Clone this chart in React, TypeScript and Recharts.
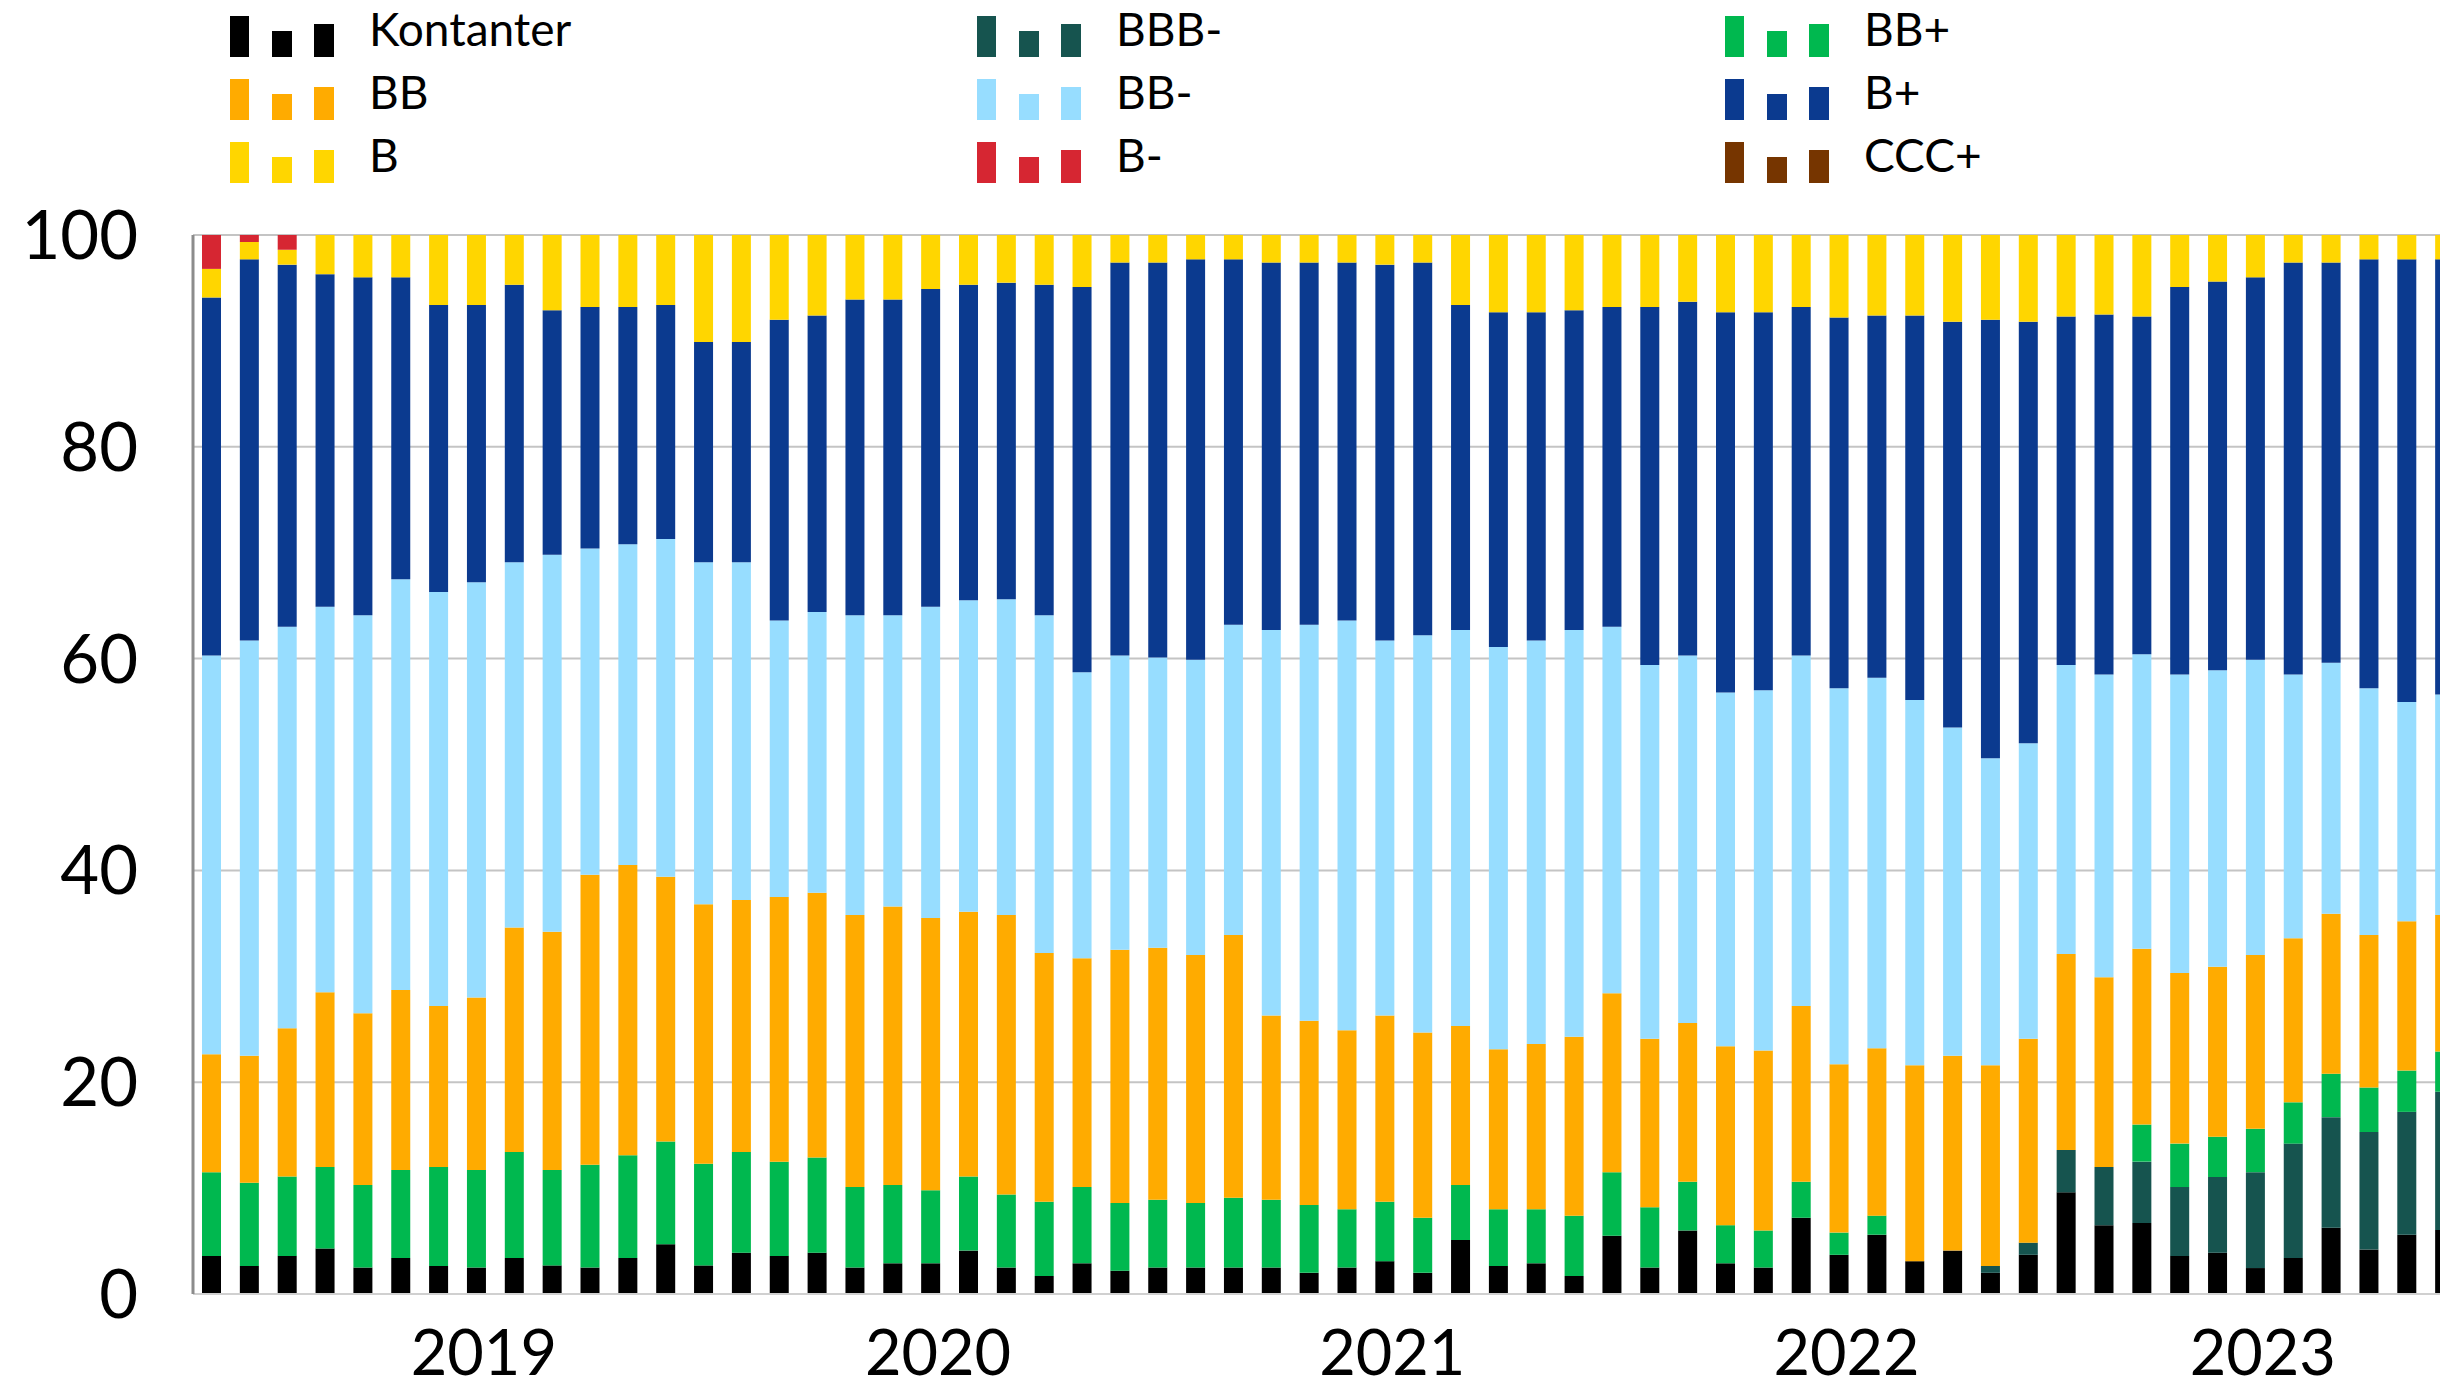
import { BarChart, Bar, XAxis, YAxis, CartesianGrid } from "recharts";

// månedlige observasjoner, nov 2018 - okt 2023
const months = [
  "2018-11", "2018-12",
  "2019-01", "2019-02", "2019-03", "2019-04", "2019-05", "2019-06", "2019-07", "2019-08", "2019-09", "2019-10", "2019-11", "2019-12",
  "2020-01", "2020-02", "2020-03", "2020-04", "2020-05", "2020-06", "2020-07", "2020-08", "2020-09", "2020-10", "2020-11", "2020-12",
  "2021-01", "2021-02", "2021-03", "2021-04", "2021-05", "2021-06", "2021-07", "2021-08", "2021-09", "2021-10", "2021-11", "2021-12",
  "2022-01", "2022-02", "2022-03", "2022-04", "2022-05", "2022-06", "2022-07", "2022-08", "2022-09", "2022-10", "2022-11", "2022-12",
  "2023-01", "2023-02", "2023-03", "2023-04", "2023-05", "2023-06", "2023-07", "2023-08", "2023-09", "2023-10",
];

// årstall på x-aksen
const yearLabels: Record<string, string> = {
  "2019-06": "2019",
  "2020-06": "2020",
  "2021-06": "2021",
  "2022-06": "2022",
  "2023-05": "2023",
};

const yTicks = [0, 20, 40, 60, 80, 100];

const kontanter = [
  3.6, 2.65, 3.6, 4.3, 2.5, 3.4, 2.65, 2.5, 3.4, 2.7,
  2.5, 3.4, 4.7, 2.7, 3.9, 3.6, 3.9, 2.5, 2.9, 2.9,
  4.1, 2.5, 1.7, 2.9, 2.2, 2.5, 2.5, 2.5, 2.5, 2.0,
  2.5, 3.1, 2.0, 5.1, 2.65, 2.9, 1.7, 5.5, 2.5, 6.0,
  2.9, 2.5, 7.2, 3.7, 5.6, 3.1, 4.1, 2.0, 3.7, 9.6,
  6.5, 6.7, 3.6, 3.9, 2.45, 3.4, 6.25, 4.2, 5.6, 6.05,
];
const bbbMinus = [
  0, 0, 0, 0, 0, 0, 0, 0, 0, 0,
  0, 0, 0, 0, 0, 0, 0, 0, 0, 0,
  0, 0, 0, 0, 0, 0, 0, 0, 0, 0,
  0, 0, 0, 0, 0, 0, 0, 0, 0, 0,
  0, 0, 0, 0, 0, 0, 0, 0.65, 1.15, 4.0,
  5.5, 5.8, 6.5, 7.15, 9.05, 10.8, 10.45, 11.1, 11.6, 13.05,
];
const bbPlus = [
  7.9, 7.85, 7.5, 7.7, 7.8, 8.3, 9.35, 9.2, 10.0, 9.0,
  9.7, 9.7, 9.7, 9.6, 9.5, 8.9, 9.0, 7.6, 7.4, 6.9,
  7.0, 6.9, 7.0, 7.2, 6.4, 6.4, 6.1, 6.6, 6.4, 6.4,
  5.5, 5.6, 5.2, 5.2, 5.35, 5.1, 5.7, 6.0, 5.7, 4.6,
  3.6, 3.5, 3.4, 2.1, 1.8, 0, 0, 0, 0, 0,
  0, 3.5, 4.1, 3.8, 4.1, 3.9, 4.1, 4.2, 3.9, 3.8,
];
const bb = [
  11.15, 12.0, 14.0, 16.5, 16.2, 17.0, 15.2, 16.3, 21.2, 22.5,
  27.4, 27.4, 25.0, 24.5, 23.8, 25.0, 25.0, 25.7, 26.3, 25.7,
  25.0, 26.4, 23.5, 21.6, 23.9, 23.8, 23.4, 24.8, 17.4, 17.4,
  16.9, 17.6, 17.5, 15.0, 15.1, 15.6, 16.9, 16.9, 15.9, 15.0,
  16.9, 17.0, 16.6, 15.9, 15.8, 18.5, 18.4, 18.95, 19.25, 18.5,
  17.9, 16.6, 16.1, 16.05, 16.4, 15.5, 15.1, 14.4, 14.1, 12.9,
];
const bbMinus = [
  37.65, 39.2, 37.9, 36.4, 37.6, 38.8, 39.1, 39.2, 34.5, 35.6,
  30.8, 30.3, 31.9, 32.3, 31.9, 26.1, 26.5, 28.3, 27.5, 29.4,
  29.4, 29.8, 31.9, 27.0, 27.8, 27.4, 27.9, 29.3, 36.4, 37.4,
  38.7, 35.4, 37.5, 37.4, 38.0, 38.1, 38.4, 34.6, 35.3, 34.7,
  33.4, 34.0, 33.1, 35.5, 35.0, 34.5, 31.0, 29.0, 27.9, 27.3,
  28.6, 27.8, 28.2, 28.0, 27.9, 24.9, 23.7, 23.3, 20.7, 20.8,
];
const bPlus = [
  33.8, 36.0, 34.2, 31.4, 31.9, 28.5, 27.1, 26.2, 26.2, 23.1,
  22.8, 22.4, 22.1, 20.8, 20.8, 28.4, 28.0, 29.8, 29.8, 30.0,
  29.8, 29.9, 31.2, 36.4, 37.1, 37.3, 37.8, 34.5, 34.7, 34.2,
  33.8, 35.5, 35.2, 30.7, 31.6, 31.0, 30.2, 30.2, 33.8, 33.4,
  35.9, 35.7, 32.9, 35.0, 34.2, 36.3, 38.3, 41.4, 39.8, 32.9,
  34.0, 31.9, 36.6, 36.7, 36.1, 38.9, 37.8, 40.5, 41.8, 41.1,
];
const b = [
  2.7, 1.65, 1.4, 3.7, 4.0, 4.0, 6.6, 6.6, 4.7, 7.1,
  6.8, 6.8, 6.6, 10.1, 10.1, 8.0, 7.6, 6.1, 6.1, 5.1,
  4.7, 4.5, 4.7, 4.9, 2.6, 2.6, 2.3, 2.3, 2.6, 2.6,
  2.6, 2.8, 2.6, 6.6, 7.3, 7.3, 7.1, 6.8, 6.8, 6.3,
  7.3, 7.3, 6.8, 7.8, 7.6, 7.6, 8.2, 8.0, 8.2, 7.7,
  7.5, 7.7, 4.9, 4.4, 4.0, 2.6, 2.6, 2.3, 2.3, 2.3,
];
const bMinus = [
  3.2, 0.65, 1.4, 0, 0, 0, 0, 0, 0, 0,
  0, 0, 0, 0, 0, 0, 0, 0, 0, 0,
  0, 0, 0, 0, 0, 0, 0, 0, 0, 0,
  0, 0, 0, 0, 0, 0, 0, 0, 0, 0,
  0, 0, 0, 0, 0, 0, 0, 0, 0, 0,
  0, 0, 0, 0, 0, 0, 0, 0, 0, 0,
];
const cccPlus = [
  0, 0, 0, 0, 0, 0, 0, 0, 0, 0,
  0, 0, 0, 0, 0, 0, 0, 0, 0, 0,
  0, 0, 0, 0, 0, 0, 0, 0, 0, 0,
  0, 0, 0, 0, 0, 0, 0, 0, 0, 0,
  0, 0, 0, 0, 0, 0, 0, 0, 0, 0,
  0, 0, 0, 0, 0, 0, 0, 0, 0, 0,
];

const series = [
  { key: "Kontanter", color: "#000000", values: kontanter },
  { key: "BBB-", color: "#16544F", values: bbbMinus },
  { key: "BB+", color: "#00B84F", values: bbPlus },
  { key: "BB", color: "#FFAB00", values: bb },
  { key: "BB-", color: "#97DDFF", values: bbMinus },
  { key: "B+", color: "#0B3A8F", values: bPlus },
  { key: "B", color: "#FFD600", values: b },
  { key: "B-", color: "#D62632", values: bMinus },
  { key: "CCC+", color: "#763500", values: cccPlus },
];

const data = months.map((m, i) => {
  const row: Record<string, number | string> = { month: m };
  series.forEach((s) => {
    row[s.key] = s.values[i];
  });
  return row;
});

const FONT = "Lato, 'Open Sans', sans-serif";

const YearTick = (props: any) => {
  const { x, y, payload } = props;
  return (
    <text x={x + 7} y={y + 81} textAnchor="middle" fontSize={63} fontFamily={FONT} fill="#000">
      {yearLabels[payload.value]}
    </text>
  );
};

const ValueTick = (props: any) => {
  const { x, y, payload } = props;
  return (
    <text x={x} y={y + 24} textAnchor="end" fontSize={67} fontFamily={FONT} fill="#000">
      {payload.value}
    </text>
  );
};

function LegendBlock() {
  const colX = [230, 977, 1725];
  const rowBottom = [57, 120, 183];
  return (
    <svg width={2440} height={200} style={{ position: "absolute", left: 0, top: 0 }}>
      {series.map((s, i) => {
        const x = colX[i % 3];
        const yb = rowBottom[Math.floor(i / 3)];
        return (
          <g key={s.key}>
            <rect x={x} y={yb - 41} width={19} height={41} fill={s.color} />
            <rect x={x + 42} y={yb - 26} width={20} height={26} fill={s.color} />
            <rect x={x + 84} y={yb - 33} width={20} height={33} fill={s.color} />
            <text x={x + 139} y={yb - 11} fontSize={46} fontFamily={FONT} fill="#000">
              {s.key}
            </text>
          </g>
        );
      })}
    </svg>
  );
}

export default function App() {
  return (
    <div
      style={{
        position: "absolute",
        left: 0,
        top: 0,
        width: 2440,
        height: 1389,
        overflow: "hidden",
        background: "#fff",
      }}
    >
      <BarChart
        width={2474}
        height={1389}
        data={data}
        margin={{ top: 235, right: 10, bottom: 0, left: 0 }}
      >
        <CartesianGrid vertical={false} stroke="#C4C4C4" strokeWidth={2} />
        <XAxis
          dataKey="month"
          height={95}
          ticks={Object.keys(yearLabels)}
          interval={0}
          tickLine={false}
          tickSize={0}
          tickMargin={0}
          axisLine={{ stroke: "#D0D0D0", strokeWidth: 2 }}
          tick={<YearTick />}
        />
        <YAxis
          width={193}
          domain={[0, 100]}
          ticks={yTicks}
          allowDataOverflow
          tickLine={false}
          tickSize={0}
          tickMargin={55}
          axisLine={{ stroke: "#8C8C8C", strokeWidth: 3 }}
          tick={<ValueTick />}
        />
        {series.map((s) => (
          <Bar
            key={s.key}
            dataKey={s.key}
            stackId="a"
            fill={s.color}
            barSize={19}
            isAnimationActive={false}
          />
        ))}
      </BarChart>
      <LegendBlock />
    </div>
  );
}
